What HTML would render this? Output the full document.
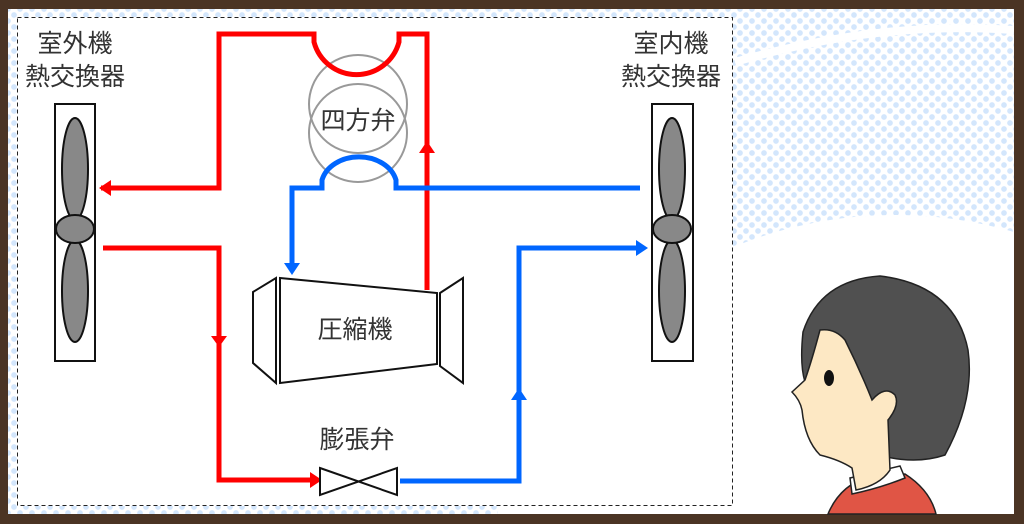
<!DOCTYPE html>
<html><head><meta charset="utf-8"><style>
html,body{margin:0;padding:0;width:1024px;height:524px;overflow:hidden}
body{background:#4b3424;position:relative}
#bg{position:absolute;left:8px;top:9px;width:1006px;height:505px;background-color:#fff;
background-image:radial-gradient(circle,#d3e6fc 2.6px,transparent 3px),radial-gradient(circle,#d3e6fc 2.6px,transparent 3px);
background-size:12px 12px;background-position:0 0,6px 6px;overflow:hidden}
svg{position:absolute;left:0;top:0;display:block}
text{font-family:"Liberation Sans","Noto Sans CJK JP",sans-serif;fill:#333}
</style></head><body>
<div id="bg"></div>
<svg width="1024" height="524" viewBox="0 0 1024 524">
<defs><clipPath id="c"><rect x="8" y="9" width="1006" height="505"/></clipPath></defs>
<g clip-path="url(#c)">
<ellipse cx="895" cy="610" rx="410" ry="395" fill="#fff"/>
<path d="M735 62 Q880 20 1014 30" stroke="#fff" stroke-width="8" fill="none"/>
<rect x="17" y="17" width="716" height="489" fill="#fff"/>
</g>
<rect x="17.5" y="17.5" width="715" height="488" fill="none" stroke="#222" stroke-width="1" stroke-dasharray="4,3"/>

<g stroke="#111" stroke-width="2">
<rect x="55" y="104" width="40" height="257" fill="#fff"/>
<ellipse cx="75" cy="169" rx="13" ry="51" fill="#888"/>
<ellipse cx="75" cy="291" rx="13" ry="51" fill="#888"/>
<ellipse cx="75" cy="229" rx="19" ry="14" fill="#888"/>
<rect x="652" y="104" width="41" height="257" fill="#fff"/>
<ellipse cx="672" cy="169" rx="13" ry="51" fill="#888"/>
<ellipse cx="672" cy="291" rx="13" ry="51" fill="#888"/>
<ellipse cx="672" cy="229" rx="19" ry="14" fill="#888"/>
</g>

<circle cx="358" cy="104" r="49" fill="none" stroke="#999" stroke-width="2"/>
<circle cx="358" cy="133" r="49" fill="none" stroke="#999" stroke-width="2"/>

<g stroke="#ff0000" stroke-width="5" fill="none">
<path d="M101 188 H219 V34 H314 V42 A44 44 0 0 0 399 42 V34 H427 V290"/>
<path d="M103 248 H219 V480 H312"/>
</g>
<g fill="#ff0000">
<polygon points="99,188 111,180 111,196"/>
<polygon points="427,141 419,153 435,153"/>
<polygon points="219,347 211,336 227,336"/>
<polygon points="322,480 310,472 310,488"/>
</g>
<g stroke="#0066ff" stroke-width="5" fill="none">
<path d="M640 188 H396 V180 A38 30 0 0 0 322 180 V188 H292 V265"/>
<path d="M400 481 H519 V248 H638"/>
</g>
<g fill="#0066ff">
<polygon points="292,275 284,263 300,263"/>
<polygon points="648,248 636,240 636,256"/>
<polygon points="519,388 511,400 527,400"/>
</g>

<g stroke="#111" stroke-width="2" fill="#fff">
<polygon points="253,292 276,278 276,383 253,363"/>
<polygon points="280,278 437,293 437,364 280,383"/>
<polygon points="440,293 463,278 463,383 440,366"/>
</g>
<polygon points="320,468 397,495 397,468 320,495" fill="#fff" stroke="#111" stroke-width="2"/>

<g font-size="25" text-anchor="middle">
<text x="75" y="52">室外機</text>
<text x="75" y="85">熱交換器</text>
<text x="671" y="52">室内機</text>
<text x="671" y="85">熱交換器</text>
<text x="358" y="129">四方弁</text>
<text x="355" y="338">圧縮機</text>
<text x="357" y="448">膨張弁</text>
</g>

<g stroke="#222" stroke-width="1.5">
<path d="M828 514 Q840 485 870 476 L905 474 Q930 490 936 514 Z" fill="#e05545"/>
<path d="M850 478 L852 494 Q880 488 905 478 L900 466 Z" fill="#fff"/>
<path d="M880 276 Q820 280 803 332 Q798 380 812 395 L840 440 Q900 470 945 455 Q975 400 968 350 Q955 285 880 276 Z" fill="#505050"/>
<path d="M820 330 Q812 360 805 380 L792 392 Q800 400 802 410 Q805 440 820 455 Q840 460 852 468 L856 490 Q880 485 890 470 L888 420 Q900 405 895 395 Q885 385 872 400 Q860 370 845 340 Q835 328 820 330 Z" fill="#fde8c4"/>
</g>
<ellipse cx="829" cy="378" rx="5" ry="8" fill="#111"/>
</svg>
</body></html>
